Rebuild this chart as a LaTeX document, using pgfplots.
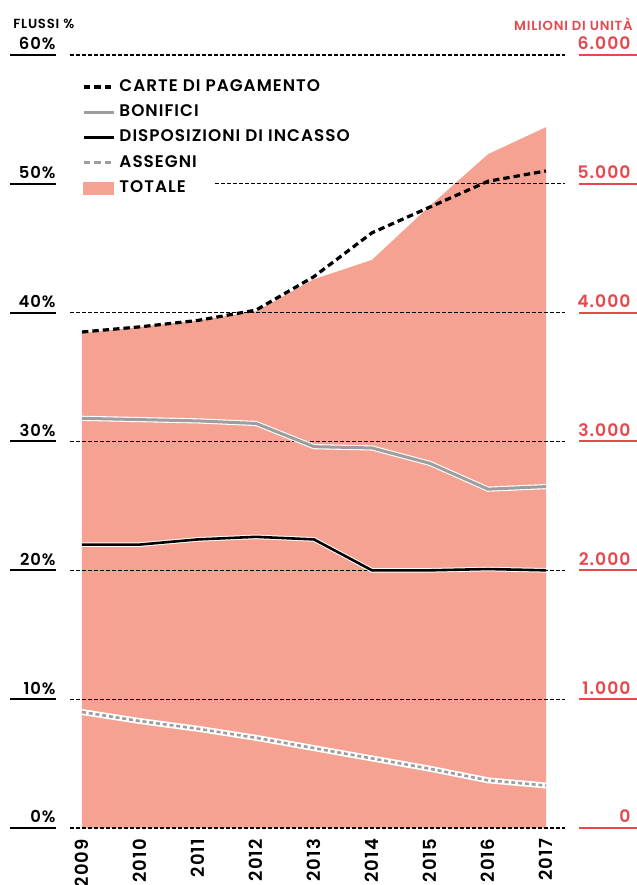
\documentclass[border=0pt]{standalone}
\usepackage{fontspec}
\setmainfont{Poppins SemiBold}[LetterSpace=6]
\usepackage{pgfplots}
\pgfplotsset{compat=1.18}
\usepackage{pgfplotstable}

\definecolor{totale}{RGB}{245,162,146}
\definecolor{rosso}{RGB}{229,72,77}
\definecolor{grigio}{RGB}{158,158,158}

% Quote dei flussi (%) e totale in milioni di unita
\pgfplotstableread{
anno carte bonifici disposizioni assegni totale
2009 38.5 31.8 22.0 9.0 3840
2010 38.9 31.7 22.0 8.3 3890
2011 39.4 31.6 22.4 7.7 3940
2012 40.2 31.4 22.6 7.0 4010
2013 42.8 29.6 22.4 6.2 4260
2014 46.2 29.5 20.0 5.4 4410
2015 48.2 28.3 20.0 4.6 4830
2016 50.2 26.3 20.1 3.7 5230
2017 51.0 26.5 20.0 3.3 5440
}\flussi

\tikzset{
  griglia/.style={black, line width=0.6pt, dash pattern=on 2pt off 1pt},
  destra/.style={rosso, anchor=base east, inner sep=0pt, yshift=2.5pt,
    font=\fontsize{8.6}{8.6}\selectfont},
}

\begin{document}
\begin{tikzpicture}
\begin{axis}[
  at={(0,0)}, anchor=south west,
  scale only axis, width=247.5pt, height=386.5pt,
  xmin=2008.7931, xmax=2017.3276, ymin=0, ymax=60,
  clip=false,
  axis line style={draw=none},
  major tick length=0pt,
  /pgf/number format/assume math mode=true,
  xtick={2009,2010,2011,2012,2013,2014,2015,2016,2017},
  xticklabels={2009,2010,2011,2012,2013,2014,2015,2016,2017},
  x tick label style={rotate=90, anchor=east, font=\fontsize{9}{9}\selectfont},
  xticklabel shift=2pt,
  ytick={0,10,20,30,40,50,60},
  yticklabels={0\%,10\%,20\%,30\%,40\%,50\%,60\%},
  y tick label style={anchor=base east, inner sep=0pt, xshift=-7pt, yshift=2.5pt,
    font=\fontsize{8.2}{8.2}\selectfont},
  legend style={at={(rel axis cs:0.024,0.974)}, anchor=north west,
    draw=none, fill=none, font=\fontsize{8.4}{8.4}\selectfont,
    row sep=1.2pt, inner sep=0pt},
  legend cell align=left,
  legend image code/.code={\draw[#1] (0pt,0pt) -- (15pt,0pt);},
]
% area del totale (scala destra: 6.000 = 60)
\addplot[fill=totale, draw=none, forget plot]
  table[x=anno, y expr=\thisrow{totale}/100] {\flussi} \closedcycle;

% griglia tratteggiata
\addplot[griglia, forget plot] coordinates {(2008.7931,0) (2017.3276,0)};
\addplot[griglia, forget plot] coordinates {(2008.7931,10) (2017.3276,10)};
\addplot[griglia, forget plot] coordinates {(2008.7931,20) (2017.3276,20)};
\addplot[griglia, forget plot] coordinates {(2008.7931,30) (2017.3276,30)};
\addplot[griglia, forget plot] coordinates {(2008.7931,40) (2017.3276,40)};
\addplot[griglia, forget plot] coordinates {(2011.29,50) (2017.3276,50)};
\addplot[griglia, forget plot] coordinates {(2008.7931,60) (2017.3276,60)};

% bordi bianchi delle linee
\addplot[white, line width=2.6pt, forget plot] table[x=anno, y=bonifici] {\flussi};
\addplot[white, line width=2.3pt, forget plot] table[x=anno, y=disposizioni] {\flussi};
\addplot[white, line width=3pt, forget plot] table[x=anno, y=assegni] {\flussi};

\addplot[black, line width=1.6pt, dash pattern=on 3.2pt off 2pt]
  table[x=anno, y=carte] {\flussi};
\addlegendentry{CARTE DI PAGAMENTO}
\addplot[grigio, line width=1.5pt] table[x=anno, y=bonifici] {\flussi};
\addlegendentry{BONIFICI}
\addplot[black, line width=1.3pt] table[x=anno, y=disposizioni] {\flussi};
\addlegendentry{DISPOSIZIONI DI INCASSO}
\addplot[grigio, line width=1.3pt, dash pattern=on 2pt off 1.4pt,
  legend image code/.code={\draw[grigio, line width=1.6pt,
    dash pattern=on 3.2pt off 2pt] (0pt,0pt) -- (15pt,0pt);}]
  table[x=anno, y=assegni] {\flussi};
\addlegendentry{ASSEGNI}
\addlegendimage{legend image code/.code={\fill[totale] (0pt,-3pt) rectangle (15pt,3pt);}}
\addlegendentry{TOTALE}

% sottolineature delle etichette
\pgfplotsinvokeforeach{0,10,20,30,40,50,60}{
  \draw[black, line width=1pt] (axis cs:2007.7586,#1) -- (axis cs:2008.5517,#1);
  \draw[rosso, line width=1pt] (axis cs:2017.5690,#1) -- (axis cs:2018.5690,#1);
}
% scala destra, milioni di unita
\node[destra] at (axis cs:2018.4655,0) {0};
\node[destra] at (axis cs:2018.4655,10) {1.000};
\node[destra] at (axis cs:2018.4655,20) {2.000};
\node[destra] at (axis cs:2018.4655,30) {3.000};
\node[destra] at (axis cs:2018.4655,40) {4.000};
\node[destra] at (axis cs:2018.4655,50) {5.000};
\node[destra] at (axis cs:2018.4655,60) {6.000};
\node[anchor=west, inner sep=0pt, font=\fontsize{6.6}{6.6}\selectfont]
  at (axis cs:2007.81,62.4) {FLUSSI \%};
\node[rosso, anchor=east, inner sep=0pt, font=\fontsize{6.6}{6.6}\selectfont]
  at (axis cs:2018.50,62.4) {MILIONI DI UNITÀ};
\end{axis}
\pgfresetboundingbox
\path (-35pt,-28.5pt) rectangle (283.5pt,414pt);
\end{tikzpicture}
\end{document}
